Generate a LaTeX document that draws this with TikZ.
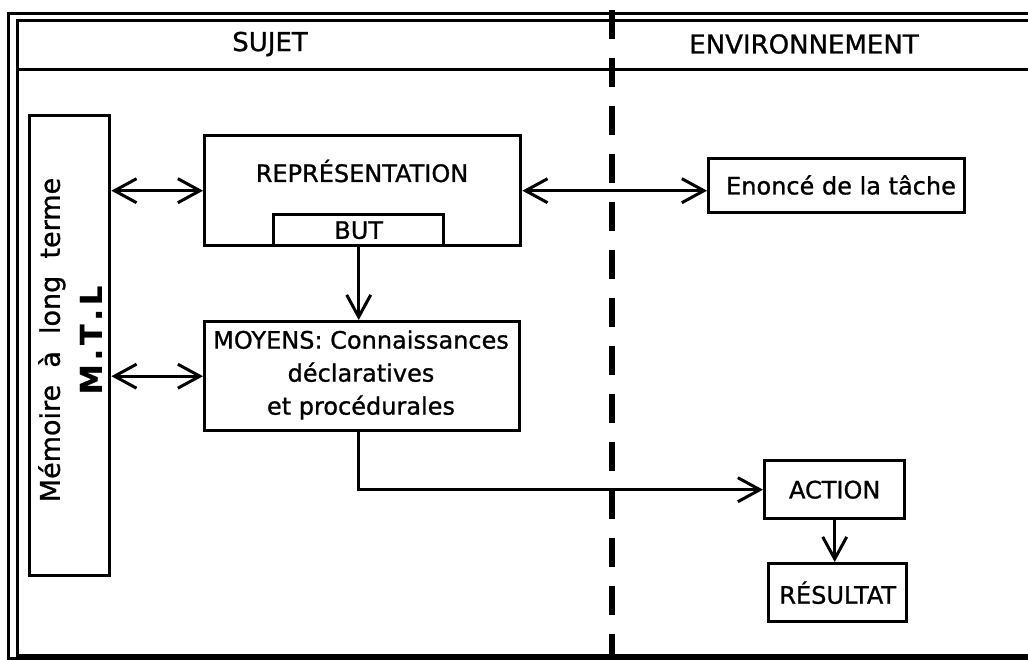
\documentclass[tikz,border=0pt]{standalone}
\usepackage{fontspec}
\setmainfont{DejaVu Sans}[FakeBold=1]
\usetikzlibrary{arrows.meta}

\tikzset{
  x=1pt, y=-1pt,
  frameline/.style={line width=3pt},
  boxstyle/.style={draw, line width=3.4pt, inner sep=0pt, anchor=north west},
  txt/.style={inner sep=0pt, font=\fontsize{24}{33}\selectfont},
  headtxt/.style={inner sep=0pt, font=\fontsize{26}{30}\selectfont},
  conn/.style={line width=3pt, -{Straight Barb[length=22pt,width=24pt]}},
  dconn/.style={line width=3pt, {Straight Barb[length=22pt,width=24pt]}-{Straight Barb[length=22pt,width=24pt]}},
  divider/.style={line width=5.5pt, dash pattern=on 29pt off 19pt}
}

\begin{document}
\begin{tikzpicture}
  \fill[white] (0,0) rectangle (1028,659);
  \useasboundingbox (0,0) rectangle (1028,659);

  % double frame, open on the right
  \draw[frameline] (1028,13) -- (8,13) -- (8,658) -- (1028,658);
  \draw[frameline] (1028,20) -- (17,20) -- (17,655) -- (1028,655);
  % header rule
  \draw[frameline] (17,69) -- (1028,69);

  % column headings
  \node[headtxt] (sujet) at (270,44) {SUJET};
  \node[headtxt] (env) at (804,44) {ENVIRONNEMENT};

  % boundary between subject and environment
  \draw[divider] (612,10) -- (612,659);

  % long-term memory
  \node[boxstyle, minimum width=80, minimum height=460] (mtl) at (28,114) {};
  \node[rotate=90, inner sep=0pt, align=center, font=\fontsize{27}{42}\selectfont] (mtltxt) at (70,340)
    {Mémoire\ \ à\ \ long\ \ terme\\{\bfseries\fontsize{30}{42}\selectfont M\hspace{4pt}.\hspace{4pt}T\hspace{4pt}.\hspace{4pt}L}};

  % representation with goal
  \node[boxstyle, minimum width=316, minimum height=110] (repr) at (203,134) {};
  \node[txt] (reprtxt) at (362,171) {REPRÉSENTATION};
  \node[boxstyle, minimum width=170, minimum height=31, txt] (but) at (272,213) {BUT};

  % means
  \node[boxstyle, minimum width=315, minimum height=109] (moyens) at (203,320) {};
  \node[txt, align=center] (moyenstxt) at (361,375)
    {MOYENS: Connaissances\\déclaratives\\et procédurales};

  % environment side
  \node[boxstyle, minimum width=256, minimum height=54] (enonce) at (707,157) {};
  \node[txt] (enoncetxt) at (841,185) {Enoncé de la tâche};
  \node[boxstyle, minimum width=140, minimum height=58, txt] (action) at (763,459) {ACTION};
  \node[boxstyle, minimum width=138, minimum height=58, txt] (resultat) at (767,562) {RÉSULTAT};

  % connectors
  \draw[dconn] (mtl.east |- repr.west) -- (repr.west);
  \draw[dconn] (mtl.east |- moyens.west) -- (moyens.west);
  \draw[dconn] (repr.east) -- (repr.east -| enonce.west);
  \draw[conn] (but.south) -- (but.south |- moyens.north);
  \draw[conn] (but.south |- moyens.south) |- (action.west);
  \draw[conn] (action.south) -- (action.south |- resultat.north);
\end{tikzpicture}
\end{document}
